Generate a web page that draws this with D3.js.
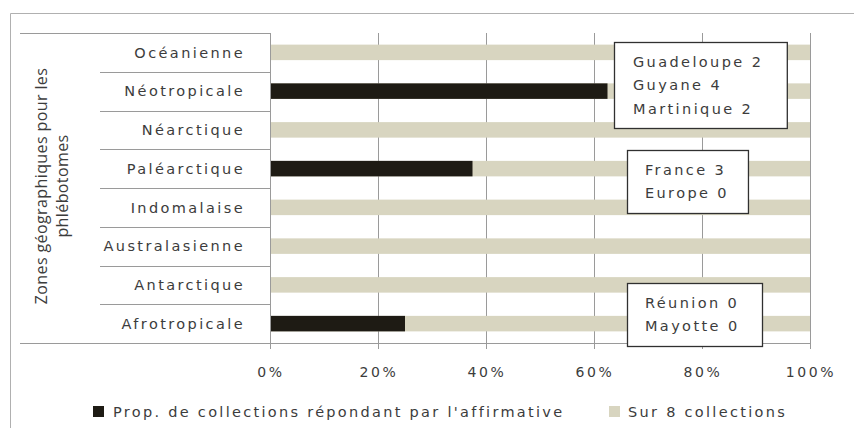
<!DOCTYPE html>
<html>
<head>
<meta charset="utf-8">
<script src="https://cdn.jsdelivr.net/npm/d3@7"></script>
<style>
  body { margin: 0; background: #fff; }
  svg text { font-family: "DejaVu Sans", Verdana, sans-serif; fill: #3c3c3c; }
</style>
</head>
<body>
<svg id="chart" width="854" height="428"></svg>
<script>
// Data
const zones = ["Océanienne", "Néotropicale", "Néarctique", "Paléarctique",
               "Indomalaise", "Australasienne", "Antarctique", "Afrotropicale"];
const affirmative = [0, 0.625, 0, 0.375, 0, 0, 0, 0.25];   // Prop. de collections répondant par l'affirmative
const total = [1, 1, 1, 1, 1, 1, 1, 1];                     // Sur 8 collections
const tickValues = [0, 0.2, 0.4, 0.6, 0.8, 1];
const seriesNames = ["Prop. de collections répondant par l'affirmative", "Sur 8 collections"];
const notes = [
  { lines: ["Guadeloupe 2", "Guyane 4", "Martinique 2"] },
  { lines: ["France 3", "Europe 0"] },
  { lines: ["Réunion 0", "Mayotte 0"] }
];

const COLORS = { dark: "#1e1b14", light: "#d8d5c0", grid: "#9a9a9a", frame: "#b0b0b0" };
const MARGIN = { left: 270, right: 44, top: 33, bottom: 85 };
const width = 854, height = 428;

const svg = d3.select("#chart");

const x = d3.scaleLinear().domain([0, 1]).range([MARGIN.left, width - MARGIN.right]);
const y = d3.scaleBand().domain(zones).range([MARGIN.top, height - MARGIN.bottom]).paddingInner(0.6).paddingOuter(0.3);
const yOuter = d3.scaleBand().domain(zones).range([MARGIN.top, height - MARGIN.bottom]);
const yBottom = height - MARGIN.bottom;

// outer frame (top + left edges only are visible)
svg.append("path")
  .attr("d", `M10.5,${height}V13.5H${width}`)
  .attr("fill", "none")
  .attr("stroke", COLORS.frame);

// vertical gridlines
svg.append("g")
  .selectAll("line")
  .data(tickValues)
  .join("line")
  .attr("x1", d => Math.round(x(d)) + 0.5)
  .attr("x2", d => Math.round(x(d)) + 0.5)
  .attr("y1", MARGIN.top)
  .attr("y2", yBottom + 6)
  .attr("stroke", COLORS.grid);

// category separators in the label area (top one runs to the left edge)
svg.append("g")
  .selectAll("line")
  .data(zones)
  .join("line")
  .attr("x1", (d, i) => i === 0 ? 20 : 100)
  .attr("x2", MARGIN.left)
  .attr("y1", d => Math.round(yOuter(d)) + 0.5)
  .attr("y2", d => Math.round(yOuter(d)) + 0.5)
  .attr("stroke", COLORS.grid);

// background bars: total (100%)
svg.append("g")
  .selectAll("rect")
  .data(zones)
  .join("rect")
  .attr("x", x(0))
  .attr("y", d => y(d))
  .attr("width", (d, i) => x(total[i]) - x(0))
  .attr("height", y.bandwidth())
  .attr("fill", COLORS.light);

// foreground bars: proportion answering yes
svg.append("g")
  .selectAll("rect")
  .data(zones)
  .join("rect")
  .attr("x", x(0))
  .attr("y", d => y(d))
  .attr("width", (d, i) => x(affirmative[i]) - x(0))
  .attr("height", y.bandwidth())
  .attr("fill", COLORS.dark);

// axis line at the bottom and left
svg.append("line")
  .attr("x1", 20).attr("x2", x(1))
  .attr("y1", yBottom + 0.5).attr("y2", yBottom + 0.5)
  .attr("stroke", COLORS.grid);
svg.append("line")
  .attr("x1", x(0) + 0.5).attr("x2", x(0) + 0.5)
  .attr("y1", MARGIN.top).attr("y2", yBottom + 6)
  .attr("stroke", COLORS.grid);

// category labels
svg.append("g")
  .selectAll("text")
  .data(zones)
  .join("text")
  .attr("x", 245)
  .attr("y", d => y(d) + y.bandwidth() / 2)
  .attr("dy", "0.36em")
  .attr("text-anchor", "end")
  .style("font-size", "14.5px")
  .style("letter-spacing", "2.4px")
  .text(d => d);

// x tick labels
svg.append("g")
  .selectAll("text")
  .data(tickValues)
  .join("text")
  .attr("x", d => x(d) + 1)
  .attr("y", 377)
  .attr("text-anchor", "middle")
  .style("font-size", "14px")
  .style("letter-spacing", "2.6px")
  .text(d3.format(".0%"));

// y axis title (two lines, rotated)
const yTitle = svg.append("text")
  .attr("transform", `translate(0, 186) rotate(-90)`)
  .attr("text-anchor", "middle")
  .style("font-family", "'Open Sans', 'Liberation Sans', sans-serif")
  .style("font-size", "16px")
  .style("letter-spacing", "0.4px");
yTitle.append("tspan").attr("x", 0).attr("y", 47).text("Zones géographiques pour les");
yTitle.append("tspan").attr("x", 0).attr("y", 68).text("phlébotomes");

// annotation boxes
const noteBoxes = [
  { x0: 0.637, x1: 0.957, y0: 42, y1: 128 },
  { x0: 0.661, x1: 0.885, y0: 150, y1: 213 },
  { x0: 0.661, x1: 0.911, y0: 283, y1: 346 }
];
notes.forEach((n, i) => {
  const b = noteBoxes[i];
  const g = svg.append("g");
  g.append("rect")
    .attr("x", Math.round(x(b.x0)) + 0.5)
    .attr("y", b.y0 + 0.5)
    .attr("width", x(b.x1) - x(b.x0))
    .attr("height", b.y1 - b.y0)
    .attr("fill", "#fff")
    .attr("stroke", "#303030")
    .attr("stroke-width", 1.3);
  const lh = 23.5;
  const startY = (b.y0 + b.y1) / 2 - (n.lines.length - 1) * lh / 2;
  g.selectAll("text")
    .data(n.lines)
    .join("text")
    .attr("x", x(b.x0) + (i === 0 ? 19 : 18))
    .attr("y", (d, j) => startY + j * lh)
    .attr("dy", "0.36em")
    .style("font-size", "14.5px")
    .style("letter-spacing", "2.4px")
    .text(d => d);
});

// legend
const legend = svg.append("g");
const legendItems = [
  { name: seriesNames[0], color: COLORS.dark, sx: 93, tx: 113 },
  { name: seriesNames[1], color: COLORS.light, sx: 609, tx: 628 }
];
legendItems.forEach(item => {
  legend.append("rect")
    .attr("x", item.sx).attr("y", 406)
    .attr("width", 11).attr("height", 11)
    .attr("fill", item.color);
  legend.append("text")
    .attr("x", item.tx).attr("y", 417)
    .style("font-size", "14.5px")
    .style("letter-spacing", "2.3px")
    .text(item.name);
});
</script>
</body>
</html>
